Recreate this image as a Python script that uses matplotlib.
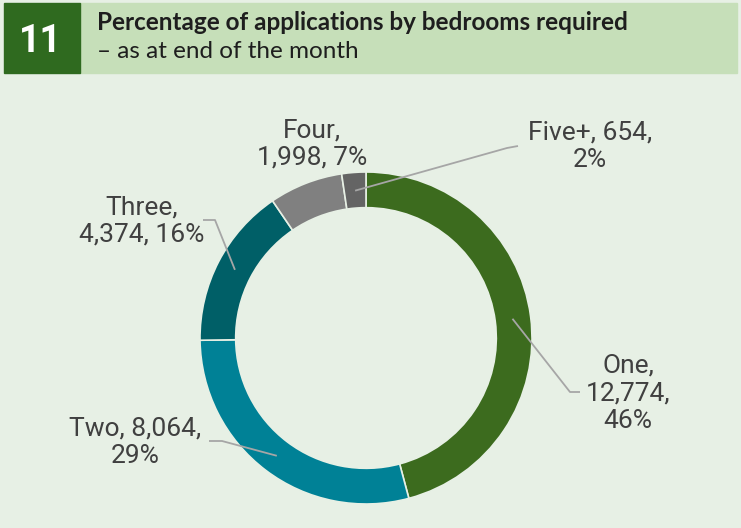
import matplotlib.pyplot as plt
from matplotlib.patches import Rectangle
import numpy as np

# data
categories = ["One", "Two", "Three", "Four", "Five+"]
counts = [12774, 8064, 4374, 1998, 654]
percents = [46, 29, 16, 7, 2]
colors = ["#3c6b1e", "#008196", "#005f67", "#808080", "#646464"]

W, H = 741, 528
fig = plt.figure(figsize=(W / 100, H / 100), dpi=100)
fig.patch.set_facecolor("#e7f0e5")

# header band
fig.patches.append(Rectangle((80 / W, 1 - 73 / H), 657 / W, 70 / H,
                             transform=fig.transFigure, color="#c6dfb9", zorder=0))
fig.patches.append(Rectangle((4 / W, 1 - 73 / H), 76 / W, 70 / H,
                             transform=fig.transFigure, color="#2f6a1f", zorder=0))
fig.text(40 / W, 1 - 41 / H, "11", color="white", fontsize=27, fontweight="bold",
         family="Roboto", ha="center", va="center")
fig.text(97 / W, 1 - 22 / H, "Percentage of applications by bedrooms required",
         fontsize=17.5, fontweight="bold", family="Lato", color="#1e1e1e",
         ha="left", va="center")
fig.text(97 / W, 1 - 51 / H, "\u2013 as at end of the month",
         fontsize=17.5, family="Lato", color="#1e1e1e", ha="left", va="center")

# donut, centre (366, 338) px, outer radius 166 px
cx, cy, R = 366, 338, 166
ax = fig.add_axes([(cx - R) / W, (H - cy - R) / H, 2 * R / W, 2 * R / H])
ax.set_facecolor("none")
wedges, _ = ax.pie(counts, colors=colors, startangle=90, counterclock=False,
                   radius=1, wedgeprops=dict(width=0.215, edgecolor="#e7f0e5", linewidth=1.2))
ax.set_xlim(-1, 1)
ax.set_ylim(-1, 1)
ax.set_aspect("equal")
ax.axis("off")


def px(x, y):
    # pixel (from top-left) -> data coords of the donut axes
    return (x - cx) / R, (cy - y) / R


labels = [f"{categories[0]},\n{counts[0]:,},\n{percents[0]}%",
          f"{categories[1]}, {counts[1]:,},\n{percents[1]}%",
          f"{categories[2]},\n{counts[2]:,}, {percents[2]}%",
          f"{categories[3]},\n{counts[3]:,}, {percents[3]}%",
          f"{categories[4]}, {counts[4]:,},\n{percents[4]}%"]

label_pos = [(628, 393), (135, 442), (142, 221), (312, 144), (590, 146)]
elbows = [[(570, 392), (580, 392)], [(222, 441), (209, 441)], [(215, 220), (203, 220)],
          None, [(507, 148), (518, 146)]]

for w, lab, pos, elb in zip(wedges, labels, label_pos, elbows):
    tx, ty = px(*pos)
    ax.text(tx, ty, lab, ha="center", va="center", fontsize=19, family="Roboto",
            color="#404040", linespacing=1.2, clip_on=False)
    if elb is None:
        continue
    mid = np.deg2rad((w.theta1 + w.theta2) / 2)
    r = 0.89
    xs = [r * np.cos(mid)] + [px(*p)[0] for p in elb]
    ys = [r * np.sin(mid)] + [px(*p)[1] for p in elb]
    ax.plot(xs, ys, color="#a6a6a6", lw=1.3, clip_on=False, solid_capstyle="butt")

fig.savefig("out.png", dpi=100, facecolor=fig.get_facecolor())
